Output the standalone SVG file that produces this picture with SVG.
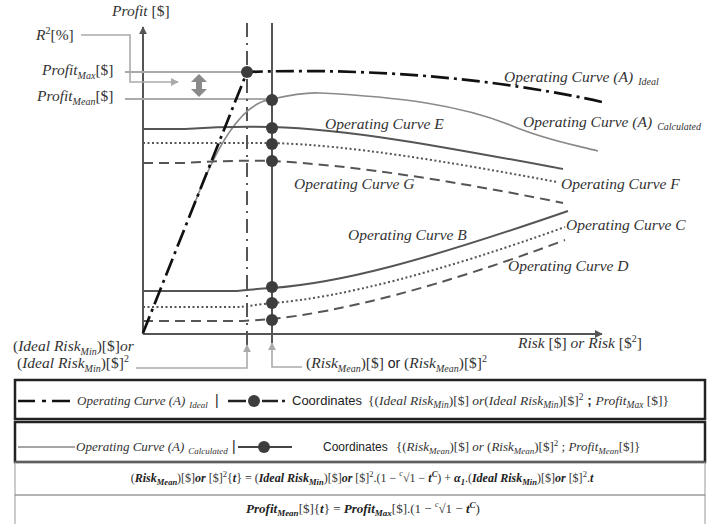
<svg xmlns="http://www.w3.org/2000/svg" width="716" height="524" viewBox="0 0 716 524">
<style>
.it{font-family:"Liberation Serif","DejaVu Serif",serif;font-style:italic;fill:#333}
.rm{font-family:"Liberation Serif","DejaVu Serif",serif;font-style:normal;fill:#333}
.bi{font-family:"Liberation Serif","DejaVu Serif",serif;font-style:italic;font-weight:bold;fill:#222}
.sans{font-family:"Liberation Sans",Arial,sans-serif;fill:#222}
.lbl{font-size:15.5px}
.dk{fill:none;stroke:#555;stroke-width:2}
.dot{fill:none;stroke:#555;stroke-width:2;stroke-dasharray:2 2.5}
.dash{fill:none;stroke:#555;stroke-width:2;stroke-dasharray:10 6}
.lg{fill:none;stroke:#aaa;stroke-width:1.6}
.pt{fill:#3d3d3d}
</style>
<defs>
<marker id="ax" viewBox="0 0 10 10" refX="9" refY="5" markerWidth="8" markerHeight="8" markerUnits="userSpaceOnUse" orient="auto"><path d="M0,0 L10,5 L0,10 z" fill="#555"/></marker>
<marker id="la" viewBox="0 0 10 10" refX="9" refY="5" markerWidth="8" markerHeight="8" markerUnits="userSpaceOnUse" orient="auto"><path d="M0,0 L10,5 L0,10 z" fill="#aaa"/></marker>
</defs>

<g id="axes">
<line x1="143" y1="334" x2="143" y2="27" stroke="#555" stroke-width="2" marker-end="url(#ax)"/>
<line x1="143" y1="334" x2="602" y2="334" stroke="#555" stroke-width="2" marker-end="url(#ax)"/>
<text class="lbl" x="112" y="16"><tspan class="it">Profit</tspan><tspan class="rm"> [$]</tspan></text>
<text class="lbl" x="518" y="348"><tspan class="it">Risk</tspan><tspan class="rm"> [$] </tspan><tspan class="it">or Risk</tspan><tspan class="rm"> [$</tspan><tspan class="rm" font-size="10" dy="-6">2</tspan><tspan class="rm" dy="6">]</tspan></text>
</g>

<g id="connectors">
<line x1="125" y1="72" x2="247" y2="72" stroke="#aaa" stroke-width="2"/>
<line x1="125" y1="99" x2="272" y2="99" stroke="#aaa" stroke-width="2"/>
<path d="M81,35 H130 V82 H178" class="lg" stroke="#999" marker-end="url(#la)"/>
<polygon points="199,74 207,82 202,82 202,89 207,89 199,97 191,89 196,89 196,82 191,82" fill="#8a8a8a"/>
<line x1="247" y1="23" x2="247" y2="334" stroke="#555" stroke-width="2" stroke-dasharray="14 6 2 6"/>
<line x1="247" y1="334" x2="247" y2="345" stroke="#555" stroke-width="2"/>
<line x1="272" y1="23" x2="272" y2="343" stroke="#555" stroke-width="2"/>
<path d="M136,368 H247 V345" class="lg" marker-end="url(#la)"/>
<path d="M302,367 H272 V343" class="lg" marker-end="url(#la)"/>
</g>

<g id="curves">
<path d="M194,205 C 215,150 240,103 272,99 C 290,95 305,92 320,93 C 400,97 460,105 510,125 C 545,140 575,145 598,151" fill="none" stroke="#8a8a8a" stroke-width="1.7"/>
<path d="M143,129 L185,129 Q228,126 272,127 C 350,129 450,148 563,169" class="dk"/>
<path d="M143,143 L272,143 C 350,145 450,162 557,182" class="dot"/>
<path d="M143,163 L185,163 Q228,160 272,161 C 350,165 450,180 563,203" class="dash"/>
<path d="M143,291 L237,291 Q255,289 272,288 C 340,283 420,262 568,211" class="dk"/>
<path d="M143,307 L240,307 Q255,305 272,303 C 340,298 440,272 565,227" class="dot"/>
<path d="M143,321 L243,321 Q258,320 272,319 C 340,312 440,287 565,240" class="dash"/>
<path d="M143,333 L247,72 C 330,69 420,73 500,84 C 550,91 580,97 602,102" fill="none" stroke="#111" stroke-width="2.7" stroke-dasharray="18 5 3 5"/>
</g>

<g id="points">
<circle class="pt" cx="247" cy="72" r="6"/>
<circle class="pt" cx="272" cy="100" r="6"/>
<circle class="pt" cx="272" cy="128" r="6"/>
<circle class="pt" cx="272" cy="144" r="6"/>
<circle class="pt" cx="272" cy="161" r="6"/>
<circle class="pt" cx="272" cy="287" r="6"/>
<circle class="pt" cx="272" cy="303" r="6"/>
<circle class="pt" cx="272" cy="320" r="6"/>
</g>

<g id="labels">
<text class="lbl" x="36" y="40"><tspan class="it">R</tspan><tspan class="rm" font-size="10" dy="-6">2</tspan><tspan class="rm" dy="6">[%]</tspan></text>
<text class="lbl" x="42" y="75"><tspan class="it">Profit</tspan><tspan class="it" font-size="10" dy="4">Max</tspan><tspan class="rm" dy="-4">[$]</tspan></text>
<text class="lbl" x="37" y="101"><tspan class="it">Profit</tspan><tspan class="it" font-size="10" dy="4">Mean</tspan><tspan class="rm" dy="-4">[$]</tspan></text>
<text class="lbl" x="13" y="351"><tspan class="rm">(</tspan><tspan class="it">Ideal Risk</tspan><tspan class="it" font-size="10" dy="4">Min</tspan><tspan class="rm" dy="-4">)[$]</tspan><tspan class="it">or</tspan></text>
<text class="lbl" x="17" y="368"><tspan class="rm">(</tspan><tspan class="it">Ideal Risk</tspan><tspan class="it" font-size="10" dy="4">Min</tspan><tspan class="rm" dy="-4">)[$]</tspan><tspan class="rm" font-size="10" dy="-6">2</tspan></text>
<text class="lbl" x="306" y="368"><tspan class="rm">(</tspan><tspan class="it">Risk</tspan><tspan class="it" font-size="10" dy="4">Mean</tspan><tspan class="rm" dy="-4">)[$] </tspan><tspan class="sans" font-size="14">or</tspan><tspan class="rm"> (</tspan><tspan class="it">Risk</tspan><tspan class="it" font-size="10" dy="4">Mean</tspan><tspan class="rm" dy="-4">)[$]</tspan><tspan class="rm" font-size="10" dy="-6">2</tspan></text>
</g>

<g id="curve-labels">
<text class="lbl it" x="504" y="82">Operating Curve (A)<tspan font-size="10" dx="5" dy="3">Ideal</tspan></text>
<text class="lbl it" x="523" y="127">Operating Curve (A)<tspan font-size="10" dx="5" dy="3">Calculated</tspan></text>
<text class="lbl it" x="325" y="129">Operating Curve E</text>
<text class="lbl it" x="294" y="189">Operating Curve G</text>
<text class="lbl it" x="561" y="189">Operating Curve F</text>
<text class="lbl it" x="348" y="240">Operating Curve B</text>
<text class="lbl it" x="566" y="230">Operating Curve C</text>
<text class="lbl it" x="508" y="271">Operating Curve D</text>
</g>

<g id="legend-ideal">
<rect x="15" y="380" width="690" height="39" fill="none" stroke="#222" stroke-width="2.5"/>
<path d="M18,401 H35 M42,401 H46 M52,401 H70" stroke="#111" stroke-width="2.5" fill="none"/>
<text class="it" font-size="13" x="77" y="405">Operating Curve (A)<tspan font-size="9" dx="4" dy="3">Ideal</tspan></text>
<text class="sans" font-size="14" x="215" y="405">|</text>
<path d="M228,401 H246 M262,401 H278 M282,401 H285" stroke="#222" stroke-width="2.5" fill="none"/>
<circle class="pt" cx="254" cy="401" r="6"/>
<text class="sans" font-size="13" x="292" y="405">Coordinates</text>
<text font-size="13.5" x="368" y="405"><tspan class="rm">{(</tspan><tspan class="it">Ideal Risk</tspan><tspan class="it" font-size="9.5" dy="3">Min</tspan><tspan class="rm" dy="-3">)[$] </tspan><tspan class="it">or</tspan><tspan class="rm">(</tspan><tspan class="it">Ideal Risk</tspan><tspan class="it" font-size="9.5" dy="3">Min</tspan><tspan class="rm" dy="-3">)[$]</tspan><tspan class="rm" font-size="9.5" dy="-5">2</tspan><tspan class="sans" font-weight="bold" dy="5"> ; </tspan><tspan class="it">Profit</tspan><tspan class="it" font-size="9.5" dy="3">Max</tspan><tspan class="rm" dy="-3"> [$]}</tspan></text>
</g>

<g id="legend-calculated">
<rect x="15" y="422" width="690" height="40" fill="none" stroke="#222" stroke-width="2.5"/>
<line x1="18" y1="447" x2="75" y2="447" stroke="#888" stroke-width="1.6"/>
<text class="it" font-size="13" x="76" y="451">Operating Curve (A)<tspan font-size="9" dx="4" dy="3">Calculated</tspan></text>
<text class="sans" font-size="14" x="232" y="451">|</text>
<line x1="238" y1="447" x2="292" y2="447" stroke="#444" stroke-width="2"/>
<circle class="pt" cx="264" cy="447" r="6"/>
<text class="sans" font-size="12" x="323" y="451">Coordinates</text>
<text font-size="13" x="396" y="451"><tspan class="rm">{(</tspan><tspan class="it">Risk</tspan><tspan class="it" font-size="9" dy="3">Mean</tspan><tspan class="rm" dy="-3">)[$] </tspan><tspan class="it">or</tspan><tspan class="rm"> (</tspan><tspan class="it">Risk</tspan><tspan class="it" font-size="9" dy="3">Mean</tspan><tspan class="rm" dy="-3">)[$]</tspan><tspan class="rm" font-size="9" dy="-5">2</tspan><tspan class="rm" dy="5"> ; </tspan><tspan class="it">Profit</tspan><tspan class="it" font-size="9" dy="3">Mean</tspan><tspan class="rm" dy="-3">[$]}</tspan></text>
</g>

<g id="formula-risk">
<rect x="15" y="462" width="690" height="33" fill="none" stroke="#999" stroke-width="1"/>
<text font-size="12" x="362" y="482" text-anchor="middle"><tspan class="rm">(</tspan><tspan class="bi">Risk</tspan><tspan class="bi" font-size="8.5" dy="3">Mean</tspan><tspan class="rm" dy="-3">)[$]</tspan><tspan class="bi">or</tspan><tspan class="rm"> [$]</tspan><tspan class="rm" font-size="8.5" dy="-5">2</tspan><tspan class="rm" dy="5">{</tspan><tspan class="bi">t</tspan><tspan class="rm">} = (</tspan><tspan class="bi">Ideal Risk</tspan><tspan class="bi" font-size="8.5" dy="3">Min</tspan><tspan class="rm" dy="-3">)[$]</tspan><tspan class="bi">or</tspan><tspan class="rm"> [$]</tspan><tspan class="rm" font-size="8.5" dy="-5">2</tspan><tspan class="rm" dy="5">.(1 − </tspan><tspan class="it" font-size="8" dy="-6">c</tspan><tspan class="rm" dy="6">√1 − </tspan><tspan class="bi">t</tspan><tspan class="bi" font-size="8.5" dy="-5">C</tspan><tspan class="rm" dy="5">) + </tspan><tspan class="bi">α</tspan><tspan class="bi" font-size="8.5" dy="3">1</tspan><tspan class="rm" dy="-3">.(</tspan><tspan class="bi">Ideal Risk</tspan><tspan class="bi" font-size="8.5" dy="3">Min</tspan><tspan class="rm" dy="-3">)[$]</tspan><tspan class="bi">or</tspan><tspan class="rm"> [$]</tspan><tspan class="rm" font-size="8.5" dy="-5">2</tspan><tspan class="rm" dy="5">.</tspan><tspan class="bi">t</tspan></text>
</g>

<g id="formula-profit">
<rect x="15" y="495" width="690" height="40" fill="none" stroke="#999" stroke-width="1"/>
<text font-size="13" x="363" y="513" text-anchor="middle"><tspan class="bi">Profit</tspan><tspan class="bi" font-size="9" dy="3">Mean</tspan><tspan class="rm" dy="-3">[$]{</tspan><tspan class="bi">t</tspan><tspan class="rm">} = </tspan><tspan class="bi">Profit</tspan><tspan class="bi" font-size="9" dy="3">Max</tspan><tspan class="rm" dy="-3">[$].(1 − </tspan><tspan class="it" font-size="8" dy="-6">c</tspan><tspan class="rm" dy="6">√1 − </tspan><tspan class="bi">t</tspan><tspan class="bi" font-size="9" dy="-5">C</tspan><tspan class="rm" dy="5">)</tspan></text>
</g>
</svg>
